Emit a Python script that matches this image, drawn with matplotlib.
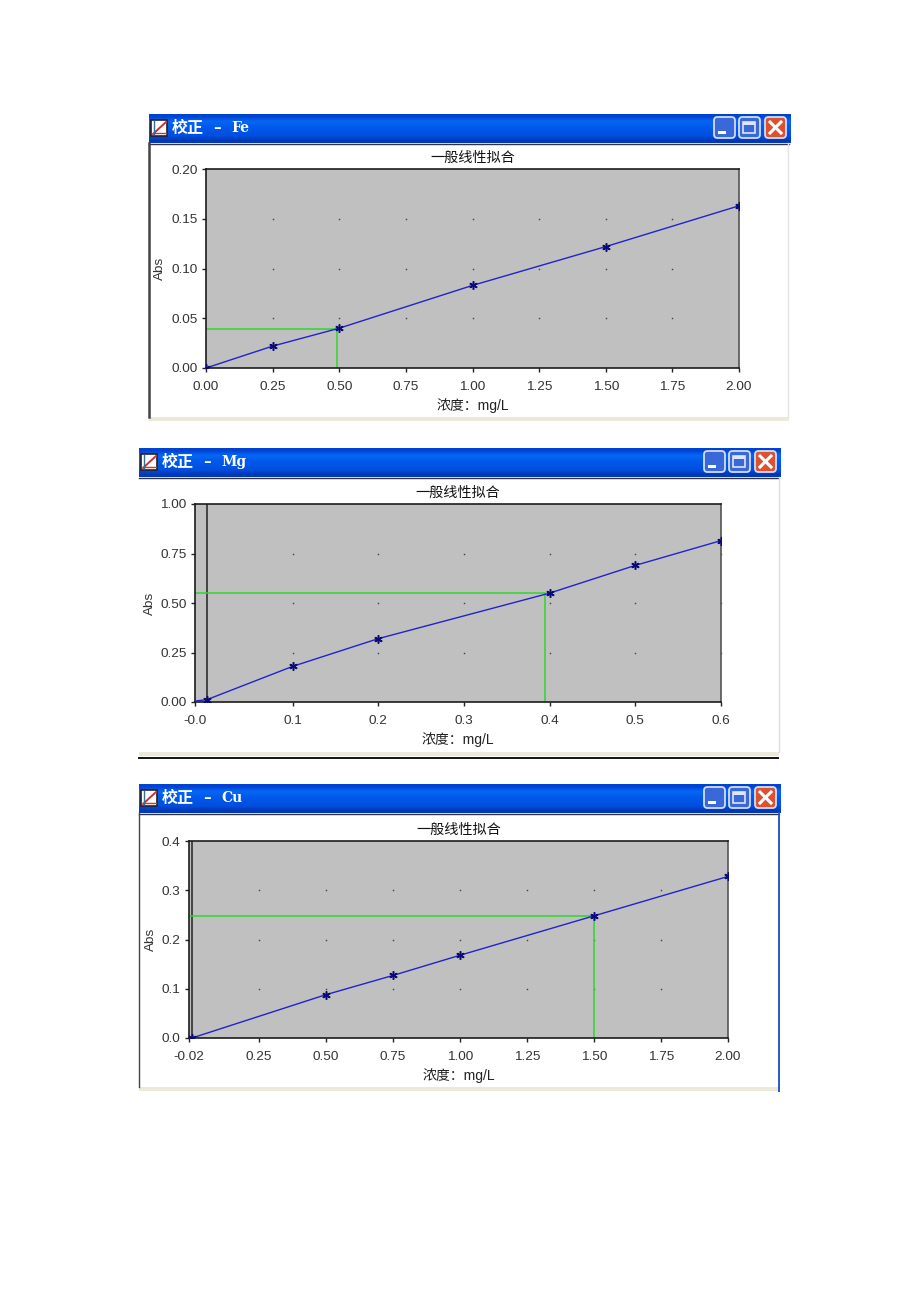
import numpy as np
import matplotlib
matplotlib.use("Agg")
import matplotlib.pyplot as plt
from matplotlib.patches import Rectangle, FancyBboxPatch

plt.rcParams['font.family'] = ['Liberation Sans', 'Noto Sans CJK SC', 'DejaVu Sans']

W, H = 920, 1302

# Fe
fe_x = [0, 0.25, 0.5, 1.0, 1.5, 2.0]
fe_y = [0, 0.022, 0.040, 0.083, 0.122, 0.163]
fe_xticks = [0, 0.25, 0.5, 0.75, 1.0, 1.25, 1.5, 1.75, 2.0]
fe_xlabels = ["0.00", "0.25", "0.50", "0.75", "1.00", "1.25", "1.50", "1.75", "2.00"]
fe_yticks = [0, 0.05, 0.10, 0.15, 0.20]
fe_ylabels = ["0.00", "0.05", "0.10", "0.15", "0.20"]

# Mg
mg_x = [0, 0.1, 0.2, 0.4, 0.5, 0.6]
mg_y = [0.012, 0.18, 0.32, 0.55, 0.69, 0.815]
mg_xticks = [-0.014, 0.1, 0.2, 0.3, 0.4, 0.5, 0.6]
mg_xlabels = ["-0.0", "0.1", "0.2", "0.3", "0.4", "0.5", "0.6"]
mg_yticks = [0, 0.25, 0.5, 0.75, 1.0]
mg_ylabels = ["0.00", "0.25", "0.50", "0.75", "1.00"]

# Cu
cu_x = [0, 0.5, 0.75, 1.0, 1.5, 2.0]
cu_y = [0, 0.088, 0.127, 0.168, 0.248, 0.328]
cu_xticks = [-0.011, 0.25, 0.5, 0.75, 1.0, 1.25, 1.5, 1.75, 2.0]
cu_xlabels = ["-0.02", "0.25", "0.50", "0.75", "1.00", "1.25", "1.50", "1.75", "2.00"]
cu_yticks = [0, 0.1, 0.2, 0.3, 0.4]
cu_ylabels = ["0.0", "0.1", "0.2", "0.3", "0.4"]

fig = plt.figure(figsize=(W / 100, H / 100), dpi=100, facecolor="white")

# whole page axes in pixels, for the window frames
page = fig.add_axes([0, 0, 1, 1], zorder=0)
page.set_xlim(0, W)
page.set_ylim(H, 0)
page.axis("off")

blue = np.array([[0.0, 0.26, 0.82], [0.03, 0.40, 0.96], [0.0, 0.36, 0.93], [0.0, 0.33, 0.90], [0.0, 0.31, 0.87], [0.0, 0.22, 0.72]])


def button(x, y, color, kind):
	page.add_patch(FancyBboxPatch((x + 1, y + 1), 21, 21, boxstyle="round,pad=0,rounding_size=3.5",
		fc=color, ec="#d0def8", lw=1.3, zorder=3))
	if kind == "min":
		page.add_patch(Rectangle((x + 5, y + 15), 8, 3, fc="white", ec="none", zorder=4))
	elif kind == "max":
		page.add_patch(Rectangle((x + 5.5, y + 6), 12, 11, fc="none", ec="#dce6fa", lw=1.2, zorder=4))
		page.add_patch(Rectangle((x + 5.5, y + 6), 12, 2.5, fc="#dce6fa", ec="none", zorder=4))
	else:
		page.plot([x + 6, x + 17], [y + 6, y + 17], color="white", lw=2.2, zorder=4)
		page.plot([x + 6, x + 17], [y + 17, y + 6], color="white", lw=2.2, zorder=4)


def window(left, right, top, bottom, title):
	# title bar
	page.imshow(blue.reshape(-1, 1, 3), extent=(left, right, top + 29, top), aspect="auto", zorder=1, interpolation="bilinear")
	page.set_xlim(0, W)
	page.set_ylim(H, 0)
	page.plot([left, right - 2], [top + 29.5, top + 29.5], color="#30343c", lw=1, zorder=2)
	# icon
	page.add_patch(Rectangle((left + 2.5, top + 5.5), 16, 16, fc="white", ec="#222222", lw=1.2, zorder=3))
	page.plot([left + 4, left + 17], [top + 20, top + 8], color="#cc3333", lw=1.4, zorder=4)
	page.plot([left + 4, left + 17], [top + 19, top + 19], color="#cc3333", lw=1, zorder=4)
	page.plot([left + 5, left + 5], [top + 7, top + 20], color="#3a6a9a", lw=1, zorder=4)
	page.text(left + 23, top + 14, title[0], color="white", fontsize=11.5, fontweight="bold",
		family=['Noto Sans CJK SC'], va="center", ha="left", zorder=4)
	page.text(left + 64, top + 14, "–", color="white", fontsize=11, fontweight="bold",
		family=['DejaVu Serif'], va="center", ha="left", zorder=4)
	page.text(left + 82, top + 14, title[1], color="white", fontsize=10, fontweight="bold",
		family=['DejaVu Serif'], va="center", ha="left", zorder=4)
	button(right - 78, top + 2, "#3b68d8", "min")
	button(right - 53, top + 2, "#3b68d8", "max")
	button(right - 27, top + 2, "#dd5030", "close")
	# cream strip at the bottom
	page.add_patch(Rectangle((left, bottom), right - left - 2, 4, fc="#ece9d8", ec="none", zorder=1))


def chart(box, x, y, xticks, xlabels, yticks, ylabels, ymax, green_x, green_y, zero_line, dot_xs, abs_px):
	left, right, top, bottom = box
	ax = fig.add_axes([left / W, 1 - bottom / H, (right - left) / W, (bottom - top) / H], zorder=2)
	ax.set_facecolor("#c0c0c0")
	ax.set_xlim(xticks[0], xticks[-1])
	ax.set_ylim(0, ymax)
	ax.set_xticks(xticks)
	ax.set_xticklabels(xlabels)
	ax.set_yticks(yticks)
	ax.set_yticklabels(ylabels)
	ax.tick_params(labelsize=9.7, length=3, width=1, color="#222222", labelcolor="#333333")
	ax.tick_params(axis="x", pad=6)
	ax.tick_params(axis="y", pad=3)
	for side in ax.spines:
		ax.spines[side].set_linewidth(1.2)
		ax.spines[side].set_color("#1c1c1c")
	ax.spines["right"].set_color("#555555")
	# little dots at the grid crossings
	for gx in dot_xs:
		for gy in yticks[1:-1]:
			ax.plot([gx], [gy], marker="s", ms=1.0, mew=0, color="#404040", zorder=1, clip_on=False)
	if zero_line:
		ax.axvline(0, color="#444444", lw=1.4, zorder=1)
	# green read-off lines
	ax.plot([xticks[0], green_x, green_x], [green_y, green_y, 0], color="#2fd82f", lw=1.1, zorder=2)
	line_x = [xticks[0]] + x if zero_line else x
	line_y = [y[0] * 0.4] + y if zero_line else y
	ax.plot(line_x, line_y, color="#2222cc", lw=1.0, zorder=3)
	ax.plot(x, y, ls="none", marker=(6, 2, 0), ms=6, mew=1.1, color="#0a0a78", zorder=4)
	mid = (left + right) / 2
	page.text(mid, top - 11, "一般线性拟合", fontsize=10.2, color="#111111", ha="center", va="center", zorder=4)
	page.text(mid, bottom + 38, "浓度：mg/L", fontsize=10, color="#222222", ha="center", va="center", zorder=4)
	page.text(abs_px, (top + bottom) / 2, "Abs", fontsize=9.7, color="#333333", rotation=90, ha="center", va="center", zorder=4)


window(149, 791, 114, 417, ("校正", "Fe"))
page.plot([149.5, 149.5], [143, 417], color="#444444", lw=1.8, zorder=2)
page.plot([788.5, 788.5], [143, 417], color="#e4e4e4", lw=1, zorder=2)
chart((206, 739, 169, 368), fe_x, fe_y, fe_xticks, fe_xlabels, fe_yticks, fe_ylabels, 0.20, 0.49, 0.039, False, fe_xticks[1:-1], 160)

window(139, 781, 448, 752, ("校正", "Mg"))
page.plot([139, 778], [757.5, 757.5], color="#111111", lw=1.4, zorder=2)
page.plot([779, 779], [477, 752], color="#dddddd", lw=1, zorder=2)
chart((195, 721, 504, 702), mg_x, mg_y, mg_xticks, mg_xlabels, mg_yticks, mg_ylabels, 1.0, 0.395, 0.55, True, mg_xticks[1:], 150)

window(139, 781, 784, 1087, ("校正", "Cu"))
page.plot([139.5, 139.5], [813, 1087], color="#444444", lw=1, zorder=2)
page.plot([779.5, 779.5], [813, 1091], color="#2a5ac8", lw=1.4, zorder=2)
chart((189, 728, 841, 1038), cu_x, cu_y, cu_xticks, cu_xlabels, cu_yticks, cu_ylabels, 0.4, 1.5, 0.248, True, cu_xticks[1:-1], 151)

fig.savefig("out.png", dpi=100)
